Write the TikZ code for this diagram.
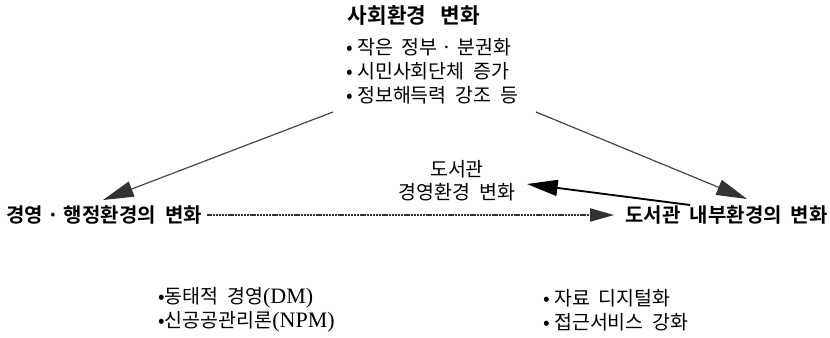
\documentclass[tikz,border=0pt]{standalone}
\usepackage{fontspec}
\setmainfont{Noto Sans CJK KR}[BoldFont={Noto Sans CJK KR Bold}]
\newfontfamily\latinserif{Liberation Serif}
\usetikzlibrary{arrows.meta}
\newcommand{\lat}[1]{{\latinserif\fontsize{16.5}{18}\selectfont #1}}
\tikzset{
  txt/.style={inner sep=0pt, font=\fontsize{14.6}{18}\selectfont},
  hd/.style={inner sep=0pt, font=\fontsize{15}{18}\selectfont\bfseries},
  scan/.style={line width=0.9pt, black!80, dash pattern=on 0.8pt off 0.3pt},
  bigtip/.style={-{Triangle[length=23pt,width=12pt]}},
  midtip/.style={-{Triangle[length=18pt,width=10pt]}},
}
\begin{document}
\begin{tikzpicture}[x=0.75pt,y=-0.75pt]
\useasboundingbox (0,0) rectangle (830,337);
\fill[white] (0,0) rectangle (830,337);
% texts
\node[hd, font=\fontsize{16}{18}\selectfont\bfseries] (soc) at (414,15) {사회환경\ \ \ 변화};
\node[txt, anchor=west, align=left] (socl) at (346,71)
  {• 작은\ \ 정부 · 분권화\\ • 시민사회단체\ \ 증가\\ • 정보해득력\ \ 강조\ \ 등};
\node[txt, align=center] (lib) at (457,181)
  {도서관\\[-0.5pt] 경영환경\ \ 변화};
\node[hd, anchor=west] (mgmt) at (6,215) {경영 · 행정환경의\ \ 변화};
\node[hd, anchor=east] (inner) at (828,215) {도서관\ \ 내부환경의\ \ 변화};
\node[txt, anchor=west, align=left] (mgl) at (158,310)
  {•동태적\ \ 경영\lat{(DM)}\\ •신공공관리론\lat{(NPM)}};
\node[txt, anchor=west, align=left] (inl) at (543,310)
  {• 자료\ \ 디지털화\\ • 접근서비스\ \ 강화};
% connector endpoints
\coordinate (ls) at (333,112);
\coordinate (lt) at (103,200);
\coordinate (rs) at (536,112);
\coordinate (rt) at (747,199);
\coordinate (hs) at (207,215);
\coordinate (ht) at (614,215);
\coordinate (bs) at (690,205);
\coordinate (bt) at (527,184);
% connectors
\draw[scan, bigtip] (ls) -- (lt);
\draw[scan, bigtip] (rs) -- (rt);
\draw[scan, midtip] (hs) -- (ht);
\draw[line width=1.4pt, bigtip] (bs) -- (bt);
\end{tikzpicture}
\end{document}
